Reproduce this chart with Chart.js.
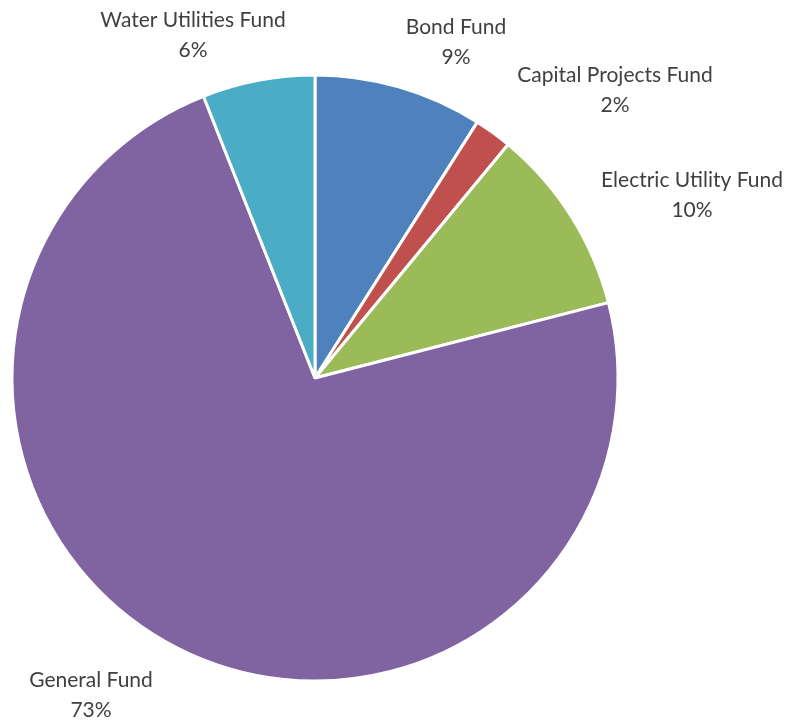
<!DOCTYPE html>
<html lang="en">
<head>
<meta charset="utf-8"/>
<title>Fund Distribution</title>
<script src="https://cdn.jsdelivr.net/npm/chart.js@4/dist/chart.umd.min.js"></script>
<style>
  html, body { margin: 0; padding: 0; background: #fff; }
  #wrap { width: 791px; height: 721px; }
</style>
</head>
<body>
<div id="wrap"><canvas id="fundChart" width="791" height="721"></canvas></div>
<script>
  // slices run clockwise from 12 o'clock
  const funds = ["Bond Fund", "Capital Projects Fund", "Electric Utility Fund", "General Fund", "Water Utilities Fund"];
  const shares = [9, 2, 10, 73, 6];
  const colors = ["#4F81BD", "#C0504D", "#9BBB59", "#8064A2", "#4BACC6"];

  // where each label block sits, as an offset from the pie centre
  const labelOffsets = [[141, -336], [300, -288], [377, -183], [-224, 317], [-122, -343]];

  const outsideLabels = {
    id: "outsideLabels",
    afterDatasetsDraw(chart) {
      const ctx = chart.ctx;
      const arcs = chart.getDatasetMeta(0).data;
      if (!arcs.length) return;
      const cx = arcs[0].x, cy = arcs[0].y;
      ctx.save();
      ctx.fillStyle = "#404040";
      ctx.font = "21px Lato, 'Open Sans', sans-serif";
      ctx.textAlign = "center";
      ctx.textBaseline = "middle";
      funds.forEach((name, i) => {
        const x = cx + labelOffsets[i][0];
        const y = cy + labelOffsets[i][1];
        ctx.fillText(name, x, y - 15);
        ctx.fillText(shares[i] + "%", x, y + 15);
      });
      ctx.restore();
    }
  };

  new Chart(document.getElementById("fundChart"), {
    type: "pie",
    data: {
      labels: funds,
      datasets: [{
        data: shares,
        backgroundColor: colors,
        borderColor: "#ffffff",
        borderWidth: 3
      }]
    },
    options: {
      responsive: false,
      animation: false,
      radius: 303,
      layout: { padding: { left: 12, right: 173, top: 75, bottom: 40 } },
      plugins: {
        legend: { display: false },
        tooltip: { enabled: false }
      }
    },
    plugins: [outsideLabels]
  });
</script>
</body>
</html>
